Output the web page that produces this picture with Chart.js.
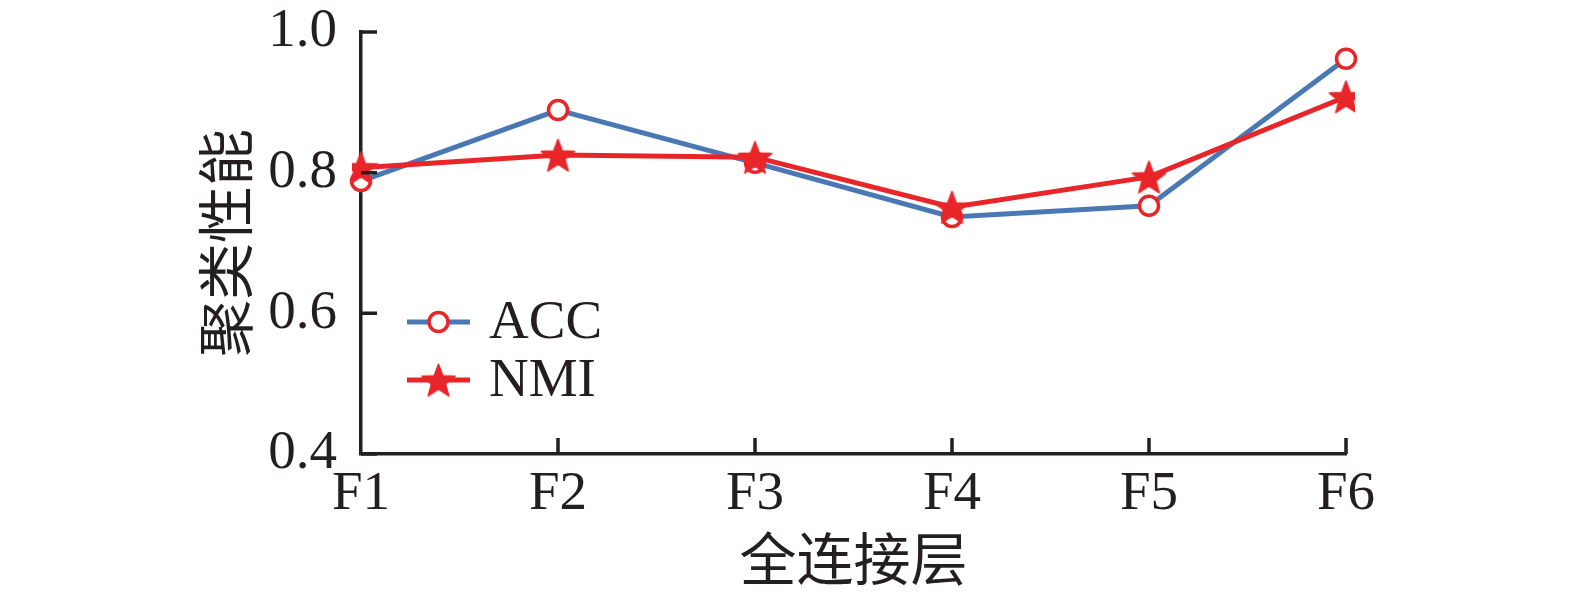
<!DOCTYPE html>
<html lang="zh">
<head>
  <meta charset="UTF-8">
  <title>聚类性能</title>
  <script src="https://cdn.jsdelivr.net/npm/chart.js"></script>
  <style>
    html, body { margin: 0; padding: 0; background: #fff; }
    #wrap { width: 1575px; height: 599px; }
  </style>
</head>
<body>
<div id="wrap"><canvas id="chart"></canvas></div>
<script>
  // data
  const layers = ['F1', 'F2', 'F3', 'F4', 'F5', 'F6'];
  const accValues = [0.788, 0.889, 0.814, 0.737, 0.753, 0.962];
  const nmiValues = [0.807, 0.825, 0.822, 0.751, 0.794, 0.908];
  const yTicks = [0.4, 0.6, 0.8, 1.0];

  const BLUE = '#4a78b4';
  const RED = '#e8262a';
  const INK = '#231f20';
  const FONT = '"Liberation Serif", "Noto Sans CJK SC", serif';

  // filled five-point star used as the NMI marker
  function makeStar(r) {
    const c = document.createElement('canvas');
    const s = Math.ceil(r * 2 + 2);
    c.width = s; c.height = s;
    const g = c.getContext('2d');
    g.translate(s / 2, s / 2 + r * 0.1);
    g.beginPath();
    for (let i = 0; i < 10; i++) {
      const rad = i % 2 === 0 ? r : r * 0.42;
      const a = -Math.PI / 2 + i * Math.PI / 5;
      g.lineTo(rad * Math.cos(a), rad * Math.sin(a));
    }
    g.closePath();
    g.fillStyle = RED;
    g.lineJoin = 'round';
    g.strokeStyle = RED;
    g.lineWidth = 1.5;
    g.fill();
    g.stroke();
    return c;
  }
  const star = makeStar(17.5);

  // inward tick marks and the legend
  const decor = {
    id: 'decor',
    afterDraw(chart) {
      const ctx = chart.ctx;
      const a = chart.chartArea;
      const x = chart.scales.x, y = chart.scales.y;
      ctx.save();
      ctx.strokeStyle = INK;
      ctx.lineWidth = 3.5;
      ctx.beginPath();
      y.ticks.forEach(t => {
        const py = y.getPixelForValue(t.value);
        ctx.moveTo(a.left, py);
        ctx.lineTo(a.left + 16, py);
      });
      x.ticks.forEach((t, i) => {
        if (i === 0) return;
        const px = x.getPixelForTick(i);
        ctx.moveTo(px, a.bottom);
        ctx.lineTo(px, a.bottom - 16);
      });
      ctx.stroke();

      // legend
      const lx = a.left + 46, ly = 322, gap = 58;
      ctx.lineWidth = 5;
      ctx.strokeStyle = BLUE;
      ctx.beginPath(); ctx.moveTo(lx, ly); ctx.lineTo(lx + 63, ly); ctx.stroke();
      ctx.strokeStyle = RED;
      ctx.beginPath(); ctx.moveTo(lx, ly + gap); ctx.lineTo(lx + 63, ly + gap); ctx.stroke();
      ctx.fillStyle = '#fff';
      ctx.lineWidth = 3.5;
      ctx.beginPath(); ctx.arc(lx + 31.5, ly, 9.5, 0, Math.PI * 2); ctx.fill(); ctx.stroke();
      ctx.drawImage(star, lx + 31.5 - star.width / 2, ly + gap - star.height / 2);
      ctx.fillStyle = INK;
      ctx.font = '55px ' + FONT;
      ctx.textAlign = 'left';
      ctx.textBaseline = 'middle';
      ctx.fillText('ACC', lx + 82, ly + 2);
      ctx.fillText('NMI', lx + 82, ly + gap + 2);
      ctx.restore();
    }
  };

  new Chart(document.getElementById('chart'), {
    type: 'line',
    data: {
      labels: layers,
      datasets: [
        {
          label: 'ACC',
          data: accValues,
          order: 2,
          borderColor: BLUE,
          borderWidth: 5,
          pointStyle: 'circle',
          pointRadius: 9.5,
          pointBorderWidth: 3.5,
          pointBorderColor: RED,
          pointBackgroundColor: '#fff',
          tension: 0
        },
        {
          label: 'NMI',
          data: nmiValues,
          order: 1,
          borderColor: RED,
          borderWidth: 5,
          pointStyle: star,
          tension: 0
        }
      ]
    },
    options: {
      responsive: true,
      maintainAspectRatio: false,
      animation: false,
      layout: { padding: { left: 198, top: 32, right: 229, bottom: 0 } },
      plugins: { legend: { display: false }, tooltip: { enabled: false } },
      scales: {
        x: {
          offset: false,
          grid: { display: false, drawTicks: false },
          border: { display: true, color: INK, width: 3.5 },
          ticks: { color: INK, font: { family: FONT, size: 55 }, padding: 8, maxRotation: 0 },
          title: { display: true, text: '全连接层', color: INK, font: { family: FONT, size: 57 }, padding: 0 },
          afterFit(s) { s.height = 599 - 454; s.paddingLeft = 0; s.paddingRight = 0; }
        },
        y: {
          min: 0.4,
          max: 1.0,
          grid: { display: false, drawTicks: false },
          border: { display: true, color: INK, width: 3.5 },
          afterBuildTicks(s) { s.ticks = yTicks.map(v => ({ value: v })); },
          ticks: {
            color: INK,
            font: { family: FONT, size: 55 },
            padding: 24,
            callback: v => Number(v).toFixed(1)
          },
          title: { display: true, text: '聚类性能', color: INK, font: { family: FONT, size: 57 }, padding: 0 },
          afterFit(s) { s.width = 361 - 198; s.paddingTop = 0; s.paddingBottom = 0; }
        }
      }
    },
    plugins: [decor]
  });
</script>
</body>
</html>
